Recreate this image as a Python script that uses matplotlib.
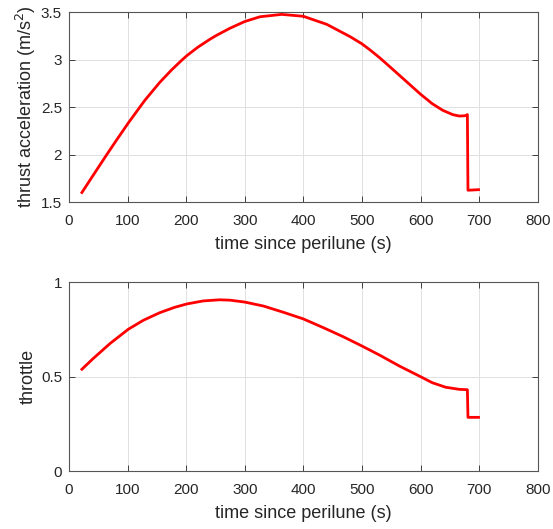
import matplotlib.pyplot as plt

plt.rcParams['font.family'] = ['Liberation Sans', 'DejaVu Sans']

# thrust acceleration (m/s^2) vs time since perilune (s)
t_acc = [22, 40, 64, 82, 101, 121, 130, 155, 175, 192, 201, 220, 241, 252,
         275, 300, 326, 363, 400, 440, 480, 500, 514, 530, 552, 581, 600,
         620, 638, 655, 666, 676, 680, 681, 690, 699]
acc = [1.60, 1.77, 1.995, 2.16, 2.33, 2.50, 2.575, 2.76, 2.89, 2.99, 3.04,
       3.13, 3.215, 3.255, 3.33, 3.40, 3.45, 3.475, 3.455, 3.37, 3.24, 3.165,
       3.10, 3.02, 2.90, 2.74, 2.635, 2.535, 2.465, 2.42, 2.405, 2.408,
       2.42, 1.624, 1.627, 1.63]

# throttle vs time since perilune (s)
t_thr = [22, 41, 70, 101, 127, 155, 180, 201, 229, 257, 275, 300, 332, 366,
         400, 434, 468, 500, 530, 564, 600, 620, 643, 666, 680, 681, 690, 699]
thr = [0.539, 0.595, 0.675, 0.75, 0.798, 0.838, 0.866, 0.884, 0.90, 0.906,
       0.904, 0.894, 0.873, 0.84, 0.805, 0.759, 0.711, 0.662, 0.614, 0.556,
       0.50, 0.468, 0.444, 0.433, 0.431, 0.285, 0.285, 0.285]

fig = plt.figure(figsize=(5.53, 5.29), dpi=100)
ax1 = fig.add_axes([0.1248, 0.6181, 0.8475, 0.3592])
ax2 = fig.add_axes([0.1248, 0.1091, 0.8475, 0.3578])

ax1.plot(t_acc, acc, color='red', linewidth=2.0)
ax1.set_ylim(1.5, 3.5)
ax1.set_yticks([1.5, 2, 2.5, 3, 3.5])
ax1.set_yticklabels(['1.5', '2', '2.5', '3', '3.5'])
ax1.set_ylabel('thrust acceleration (m/s$^2$)', fontsize=13, labelpad=2)

ax2.plot(t_thr, thr, color='red', linewidth=2.0)
ax2.set_ylim(0, 1)
ax2.set_yticks([0, 0.5, 1])
ax2.set_yticklabels(['0', '0.5', '1'])
ax2.set_ylabel('throttle', fontsize=13, labelpad=3)

for ax in (ax1, ax2):
    ax.set_xlim(0, 800)
    ax.set_xticks(range(0, 801, 100))
    ax.set_xlabel('time since perilune (s)', fontsize=13, labelpad=6)
    ax.grid(True, color='#e0e0e0', linewidth=0.7)
    ax.set_axisbelow(True)
    ax.tick_params(direction='in', top=True, right=True, labelsize=11,
                   colors='#262626', length=4, width=0.6)
    ax.tick_params(axis='x', pad=8.5)
    ax.tick_params(axis='y', pad=5)
    for s in ax.spines.values():
        s.set_color('#555555')
        s.set_linewidth(0.8)
    ax.yaxis.label.set_color('#262626')
    ax.xaxis.label.set_color('#262626')

fig.savefig('out.png', dpi=100)
